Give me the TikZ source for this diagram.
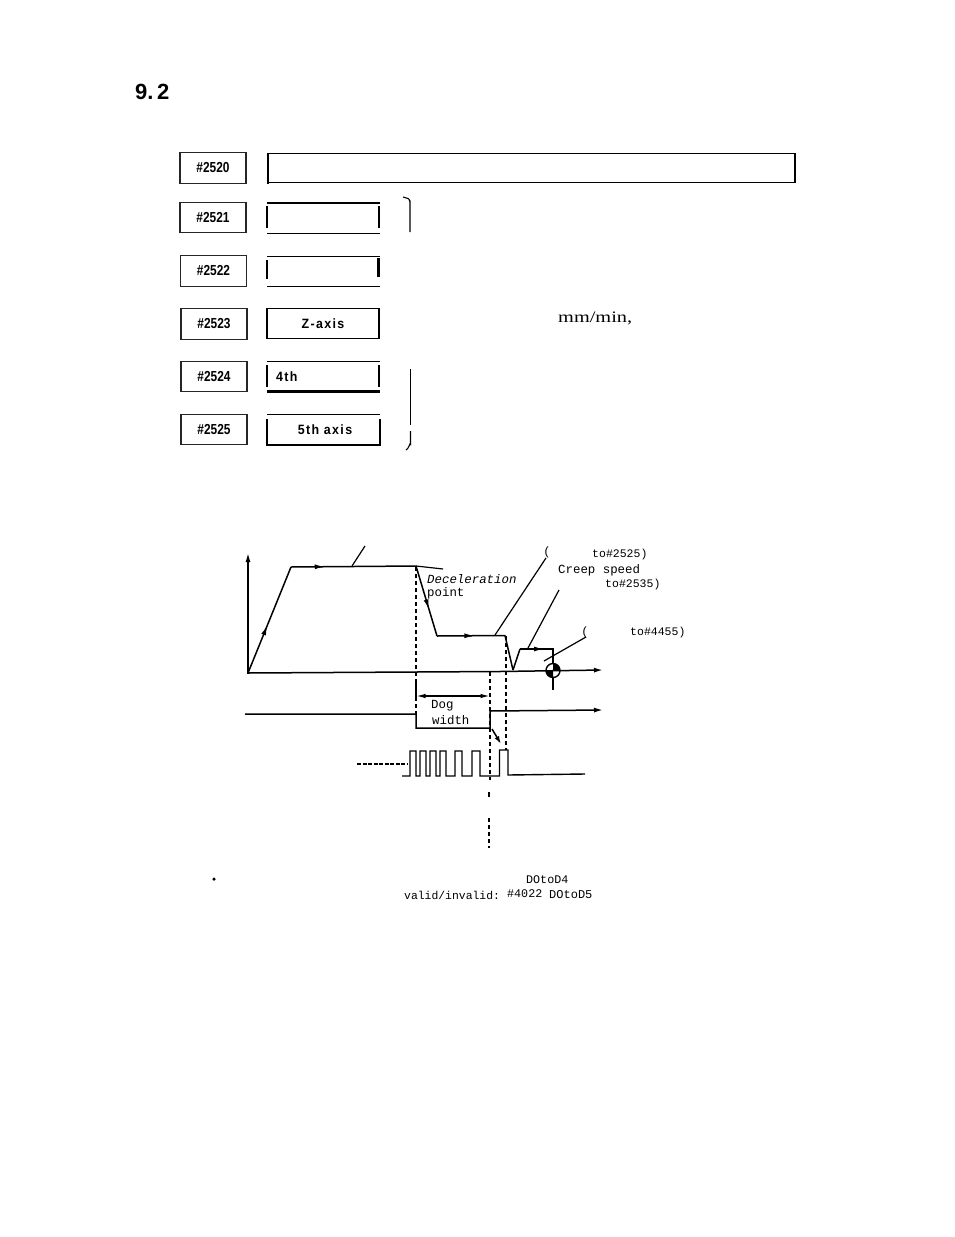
\documentclass[tikz,border=0pt]{standalone}
\usepackage{fontspec}
\setmainfont{Liberation Sans}
\newfontfamily\boxfont[FakeStretch=0.82]{Liberation Sans}
\newfontfamily\axfont[FakeStretch=0.92,LetterSpace=10]{Liberation Sans}
\newfontfamily\tyfont{Liberation Mono}
\newfontfamily\serfont[FakeStretch=1.27]{Liberation Serif}
\usetikzlibrary{arrows.meta,decorations.markings}
\tikzset{
  keybox/.style={draw=black!85,line width=1.2pt,minimum width=66pt,minimum height=30.5pt,inner sep=0pt,font=\boxfont\bfseries\fontsize{14.5}{14.5}\selectfont},
  axislabel/.style={inner sep=0pt,font=\axfont\bfseries\fontsize{13.5}{13.5}\selectfont},
  thinln/.style={line width=1.1pt,black},
  thickln/.style={line width=2.6pt,black},
  curveln/.style={line width=1.5pt,black},
  leader/.style={line width=1.2pt,black},
  dashln/.style={line width=1.5pt,black,dash pattern=on 4pt off 3pt},
  tip/.style={-{Latex[length=9pt,width=5pt]}},
  midtip/.style={postaction={decorate},decoration={markings,mark=at position #1 with {\arrow{Latex[length=10pt,width=5pt]}}}},
  tytext/.style={inner sep=0pt,anchor=west,font=\tyfont\fontsize{#1}{#1}\selectfont},
  tytext/.default=11.5
}
\begin{document}
\begin{tikzpicture}[x=1pt,y=-1pt]
\useasboundingbox[fill=white] (0,0) rectangle (954,1237);
% heading
\node[inner sep=0pt,anchor=west,font=\bfseries\fontsize{22}{22}\selectfont] (head) at (135,92) {9.\,2};
% key boxes
\node[keybox] (k0) at (213,168) {\#2520};
\node[keybox] (k1) at (213,217.5) {\#2521};
\node[keybox] (k2) at (213.5,271) {\#2522};
\node[keybox] (k3) at (214,324) {\#2523};
\node[keybox] (k4) at (214,376.5) {\#2524};
\node[keybox] (k5) at (214,429.5) {\#2525};
% value fields
\draw[thinln] (268,153.5) -- (795,153.5) -- (795,182.5) -- (268,182.5);
\draw[line width=1.8pt] (268,153) -- (268,184);
\draw[line width=2.2pt] (267,203) -- (380,203);
\draw[thinln] (267,233.5) -- (380,233.5);
\draw[thickln] (267,206) -- (267,228);
\draw[thickln] (379,206) -- (379,228);
\draw[thinln] (267,256.5) -- (380,256.5);
\draw[thinln] (267,286.5) -- (380,286.5);
\draw[line width=1.4pt] (267,260) -- (267,279);
\draw[thickln] (378.5,258) -- (378.5,277);
\node[draw=black,line width=1.3pt,minimum width=112pt,minimum height=30.5pt,axislabel] (zf) at (323,323.5) {Z-axis};
\draw[thinln] (267,361.5) -- (380,361.5);
\draw[line width=2.2pt] (267,391.5) -- (380,391.5);
\draw[thickln] (267,365) -- (267,387);
\draw[thickln] (379,365) -- (379,387);
\node[axislabel,anchor=west] (f4) at (276,377) {4th};
\draw[thinln] (267,414.5) -- (380,414.5);
\draw[thinln] (267,419) -- (267,445) -- (380,445) -- (380,419);
\node[axislabel] (f5) at (325,430) {5th axis};
% braces
\draw[thinln] (403,197) -- (408,198.5) to[out=0,in=-90] (410,202) -- (410,232);
\draw[thinln] (410.5,369) -- (410.5,425);
\draw[thinln] (410.5,431) -- (410.5,444) to[out=90,in=20] (406,450);
\node[inner sep=0pt,anchor=west,font=\serfont\fontsize{16}{16}\selectfont] (unit) at (558,318) {mm/min,};
% axes
\draw[line width=1.4pt,tip] (248,673.5) -- (248,553);
\draw[line width=1.5pt,tip] (248,673) -- (500,671.5) -- (603,670);
% speed profile
\draw[curveln,midtip=0.45] (248,673) -- (291,567);
\draw[curveln,midtip=0.27] (291,567) -- (416,566);
\draw[curveln,midtip=0.62] (416,566) -- (437,636);
\draw[curveln,midtip=0.55] (437,636) -- (505,635.5);
\draw[curveln] (505,635.5) -- (513,670);
\draw[curveln] (513,670) -- (520,649);
\draw[curveln,midtip=0.5] (520,649) -- (553,649) -- (553,664);
% machine zero symbol
\coordinate (zero) at (553,670.5);
\fill[black] (zero) -- ++(7,0) arc (0:-90:7) -- cycle;
\fill[black] (zero) -- ++(-7,0) arc (180:90:7) -- cycle;
\draw[line width=1.4pt] (zero) circle (7);
\draw[line width=1.6pt] (553,677) -- (553,690);
% dashed verticals
\draw[dashln] (416,567) -- (416,681);
\draw[line width=1.5pt] (416,681) -- (416,697);
\draw[dashln] (416,697) -- (416,714);
\draw[dashln] (490,672) -- (490,780);
\draw[dashln] (506,636) -- (506,750);
\draw[line width=1.8pt,dash pattern=on 5pt off 20pt] (489,792) -- (489,798);
\draw[line width=2pt,dash pattern=on 4pt off 3pt] (489,818) -- (489,848);
% dog width dimension
\draw[line width=1.2pt,{Latex[length=9pt,width=4.5pt]}-{Latex[length=9pt,width=4.5pt]}] (416.5,696) -- (489.5,696);
% dog signal
\draw[line width=1.5pt,tip] (245,714) -- (416,714) -- (416,728) -- (490,728) -- (490,711) -- (603,710);
\node[tytext=12.4] (dog) at (431,706) {Dog};
\node[tytext=12.4] (wid) at (432,720) {width};
\draw[line width=1.5pt,-{Latex[length=8pt,width=5pt]}] (492,729) -- (501,744);
% grid pulses
\draw[line width=1.4pt] (402,776) -- (410,776) -- (410,751) -- (416,751) -- (416,776) -- (420,776) -- (420,751) -- (426,751) -- (426,776) -- (430,776) -- (430,751) -- (436,751) -- (436,776) -- (440,776) -- (440,751) -- (446,751) -- (446,776) -- (455,776) -- (455,751) -- (462,751) -- (462,776) -- (472,776) -- (472,751) -- (480,751) -- (480,776) -- (499.5,776) -- (499.5,750) -- (508,750) -- (508,775) -- (585,774);
\draw[line width=1.8pt,dash pattern=on 4pt off 1.5pt] (357,764) -- (408,764);
% leaders
\draw[leader] (352,566) -- (365,546);
\draw[leader] (416,566) -- (443,569);
\draw[leader] (495,635) -- (546,558);
\node[inner sep=0pt,font=\tyfont\fontsize{12}{12}\selectfont] (p1) at (547,552) {(};
\draw[leader] (528,648) -- (559,590);
\draw[leader] (544,661) -- (586,637);
\node[inner sep=0pt,font=\tyfont\fontsize{12}{12}\selectfont] (p2) at (585,632) {(};
% texts
\node[inner sep=0pt,anchor=west,font=\tyfont\itshape\fontsize{12.4}{12.4}\selectfont] (dec) at (427,579) {Deceleration};
\node[tytext=12.4] (pt) at (427,593) {point};
\node[tytext] (t1) at (592,555) {to\#2525)};
\node[tytext=12.4] (cs) at (558,570) {Creep speed};
\node[tytext] (t2) at (605,585) {to\#2535)};
\node[tytext] (t3) at (630,633) {to\#4455)};
\node[circle,fill=black,inner sep=0pt,minimum size=3.5pt] (dot) at (214,879) {};
\node[tytext=11.7] (d1) at (526,880) {DOtoD4};
\node[tytext=11.4] (v1) at (404,895) {valid/invalid:};
\node[tytext=11.7] (v2) at (507,894) {\#4022};
\node[tytext=12] (d2) at (549,895) {DOtoD5};
\end{tikzpicture}
\end{document}
